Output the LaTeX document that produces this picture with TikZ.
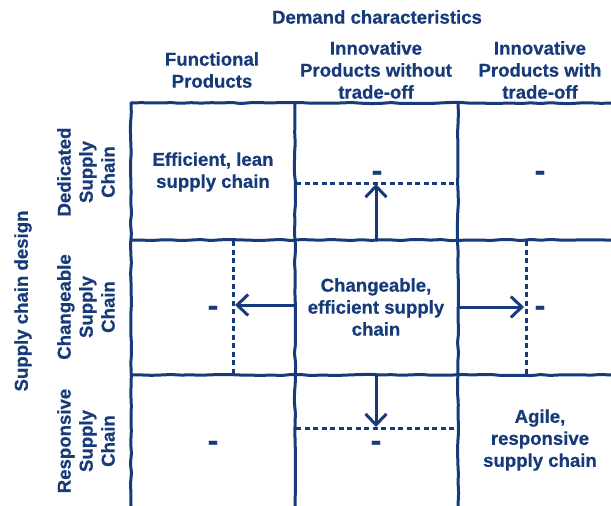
\documentclass[tikz,border=0pt]{standalone}
\usepackage{fontspec}
\setmainfont{Liberation Sans}[BoldFeatures={FakeBold=0.6}]
\usetikzlibrary{arrows.meta,decorations.pathmorphing}
\definecolor{navy}{RGB}{22,58,122}
\begin{document}
\begin{tikzpicture}[x=1pt,y=-1pt,
  gridline/.style={draw=navy, line width=3pt, line cap=round,
    decorate, decoration={random steps,segment length=10pt,amplitude=0.6pt}, rounded corners=1.5pt},
  dotline/.style={draw=navy, line width=3pt, dash pattern=on 5pt off 3.5pt},
  arr/.style={draw=navy, line width=3pt, line cap=round,
    -{Straight Barb[length=11pt,width=21pt,line width=3pt]}},
  txt/.style={text=navy, font=\bfseries\fontsize{18.6}{22}\selectfont, align=center, inner sep=0pt},
  dmark/.style={text=navy, font=\bfseries\fontsize{32}{32}\selectfont, inner sep=0pt}]
\useasboundingbox (0,0) rectangle (611,506);
% grid
\draw[gridline] (131,103) -- (611,103);
\draw[gridline] (131,240) -- (611,240);
\draw[gridline] (131,375) -- (611,375);
\draw[gridline] (131,103) -- (131,506);
\draw[gridline] (295,103) -- (295,506);
\draw[gridline] (458,103) -- (458,506);
% dotted limits
\coordinate (d1a) at (296,183); \coordinate (d1b) at (456,183);
\coordinate (d2a) at (233,241); \coordinate (d2b) at (233,374);
\coordinate (d3a) at (526,241); \coordinate (d3b) at (526,374);
\coordinate (d4a) at (296,428); \coordinate (d4b) at (454,428);
\draw[dotline] (d1a) -- (d1b);
\draw[dotline] (d2a) -- (d2b);
\draw[dotline] (d3a) -- (d3b);
\draw[dotline] (d4a) -- (d4b);
% arrows
\coordinate (upS) at (376,240); \coordinate (upE) at (376,184);
\coordinate (lfS) at (295,305); \coordinate (lfE) at (235,305);
\coordinate (rtS) at (458,307); \coordinate (rtE) at (524,307);
\coordinate (dnS) at (376,375); \coordinate (dnE) at (376,427);
\draw[arr] (upS) -- (upE);
\draw[arr] (lfS) -- (lfE);
\draw[arr] (rtS) -- (rtE);
\draw[arr] (dnS) -- (dnE);
% headers
\node[txt] (dem) at (377,17) {Demand characteristics};
\node[txt] (h1) at (212,70) {Functional\\Products};
\node[txt] (h2) at (376,70) {Innovative\\Products without\\trade-off};
\node[txt] (h3) at (540,70) {Innovative\\Products with\\trade-off};
\node[txt,rotate=90] (scd) at (23,301) {Supply chain design};
\node[txt,rotate=90] (r1) at (86,172) {Dedicated\\Supply\\Chain};
\node[txt,rotate=90] (r2) at (86,307) {Changeable\\Supply\\Chain};
\node[txt,rotate=90] (r3) at (86,441) {Responsive\\Supply\\Chain};
% cells
\node[txt] (c11) at (213,172) {Efficient, lean\\supply chain};
\node[txt] (c22) at (376,307) {Changeable,\\efficient supply\\chain};
\node[txt] (c33) at (540,440) {Agile,\\responsive\\supply chain};
\node[dmark] (m12) at (377,176) {-};
\node[dmark] (m13) at (540,176) {-};
\node[dmark] (m21) at (213,311) {-};
\node[dmark] (m23) at (540,311) {-};
\node[dmark] (m31) at (213,446) {-};
\node[dmark] (m32) at (376,446) {-};
\end{tikzpicture}
\end{document}
